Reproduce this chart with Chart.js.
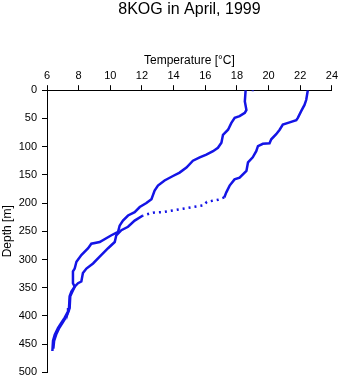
<!DOCTYPE html>
<html>
<head>
<meta charset="utf-8">
<script src="https://cdn.jsdelivr.net/npm/chart.js@4.4.1/dist/chart.umd.min.js"></script>
<style>
  body { margin: 0; background: #fff; }
  #wrap { width: 341px; height: 384px; }
</style>
</head>
<body>
<div id="wrap"><canvas id="profileChart" width="341" height="384"></canvas></div>
<script>
// profil 1 (le plus froid en surface)
const depthA = [0, 20, 35, 40, 46, 49, 58, 70, 79, 93, 102, 108, 114, 119, 125, 137, 146, 152, 160, 169,
  178, 193, 200, 207, 216, 222, 231, 240, 251, 257, 269, 272, 280, 292, 304, 316, 321, 342, 348, 357,
  365, 386, 392, 403, 412, 421, 433, 444, 462];
const tempA = [18.55, 18.5, 18.6, 18.5, 18.17, 17.86, 17.65, 17.44, 17.12, 17.02, 16.8, 16.49, 16.07, 15.65, 15.22, 14.81, 14.38, 13.96, 13.43, 13.01,
  12.8, 12.6, 12.28, 11.86, 11.54, 11.12, 10.8, 10.59, 10.49, 10.07, 9.33, 8.8, 8.6, 8.17, 7.86, 7.75, 7.64, 7.64, 7.75, 7.54,
  7.43, 7.39, 7.33, 7.12, 6.91, 6.7, 6.49, 6.38, 6.34];

// profil 2 (le plus chaud en surface)
const depthB = [0, 17, 26, 37, 49, 53, 57, 61, 70, 78, 87, 94, 95, 99, 108, 119, 128, 143, 155, 158,
  169, 181, 190, 194, 196, 198, 204, 207, 210, 213, 216, 217, 222, 231, 242, 248, 257, 269, 280, 295,
  307, 316, 324, 339, 342, 348, 357, 365, 386, 392, 403, 412, 421, 433, 444, 458];
const tempB = [22.48, 22.38, 22.27, 22.06, 21.85, 21.75, 21.33, 20.9, 20.7, 20.48, 20.17, 20.06, 19.64, 19.33, 19.22, 19.0, 18.7, 18.6, 18.17, 17.85,
  17.54, 17.33, 17.2, 16.8, 16.45, 16.1, 15.9, 15.22, 14.59, 13.96, 13.33, 12.7, 12.06, 11.54, 11.12, 10.7, 10.38, 10.28, 9.86, 9.33,
  8.91, 8.49, 8.27, 8.17, 7.96, 7.75, 7.6, 7.47, 7.43, 7.36, 7.18, 6.98, 6.78, 6.58, 6.45, 6.4];

// point isolé en surface
const strayTemp = [19.0];
const strayDepth = [0];

const tempTicks = [6, 8, 10, 12, 14, 16, 18, 20, 22, 24];
const depthTicks = [0, 50, 100, 150, 200, 250, 300, 350, 400, 450, 500];

const blue = "#1414e6";
const font = "'Liberation Sans', Arial, Helvetica, sans-serif";

function toPoints(temps, depths) {
  return temps.map((t, i) => ({ x: t, y: depths[i] }));
}

// mesures espacées autour de 200 m : tracé en pointillés
const sparse = (ctx) =>
  ctx.p0.parsed.y >= 190 && ctx.p1.parsed.y <= 222 ? [2, 4] : undefined;

const ctx = document.getElementById("profileChart").getContext("2d");
new Chart(ctx, {
  type: "scatter",
  data: {
    datasets: [
      {
        data: toPoints(tempA, depthA),
        showLine: true,
        borderColor: blue,
        borderWidth: 2.5,
        pointRadius: 0,
        tension: 0,
      },
      {
        data: toPoints(tempB, depthB),
        showLine: true,
        borderColor: blue,
        borderWidth: 2.5,
        pointRadius: 0,
        tension: 0,
        segment: { borderDash: sparse },
      },
      {
        data: toPoints(strayTemp, strayDepth),
        showLine: false,
        pointStyle: "rect",
        pointRadius: 1.5,
        backgroundColor: blue,
        borderWidth: 0,
      },
    ],
  },
  options: {
    responsive: false,
    animation: false,
    layout: { padding: { left: 0, top: 0, right: 9, bottom: 9 } },
    plugins: {
      legend: { display: false },
      tooltip: { enabled: false },
      title: {
        display: true,
        text: "8KOG in April, 1999",
        fullSize: false,
        color: "#000",
        font: { family: font, size: 16, weight: "normal" },
        padding: { top: 0, bottom: 0 },
      },
    },
    scales: {
      x: {
        type: "linear",
        position: "top",
        min: 6,
        max: 24,
        afterBuildTicks: (scale) => { scale.ticks = tempTicks.map((v) => ({ value: v })); },
        afterFit: (scale) => { scale.height = 71; },
        grid: { drawOnChartArea: false, drawTicks: true, tickLength: 5, color: "#000" },
        border: { display: true, color: "#000", width: 1 },
        ticks: { color: "#000", padding: 3, maxRotation: 0, font: { family: font, size: 11 } },
        title: {
          display: true,
          text: "Temperature [°C]",
          color: "#000",
          padding: { top: 34, bottom: 0 },
          font: { family: font, size: 12 },
        },
      },
      y: {
        type: "linear",
        position: "left",
        reverse: true,
        min: 0,
        max: 500,
        afterBuildTicks: (scale) => { scale.ticks = depthTicks.map((v) => ({ value: v })); },
        afterFit: (scale) => { scale.width = 47; },
        grid: { drawOnChartArea: false, drawTicks: true, tickLength: 5, color: "#000" },
        border: { display: true, color: "#000", width: 1 },
        ticks: { color: "#000", padding: 5, font: { family: font, size: 11 } },
        title: {
          display: true,
          text: "Depth [m]",
          color: "#000",
          padding: { top: 0, bottom: 0 },
          font: { family: font, size: 12 },
        },
      },
    },
  },
});
</script>
</body>
</html>
